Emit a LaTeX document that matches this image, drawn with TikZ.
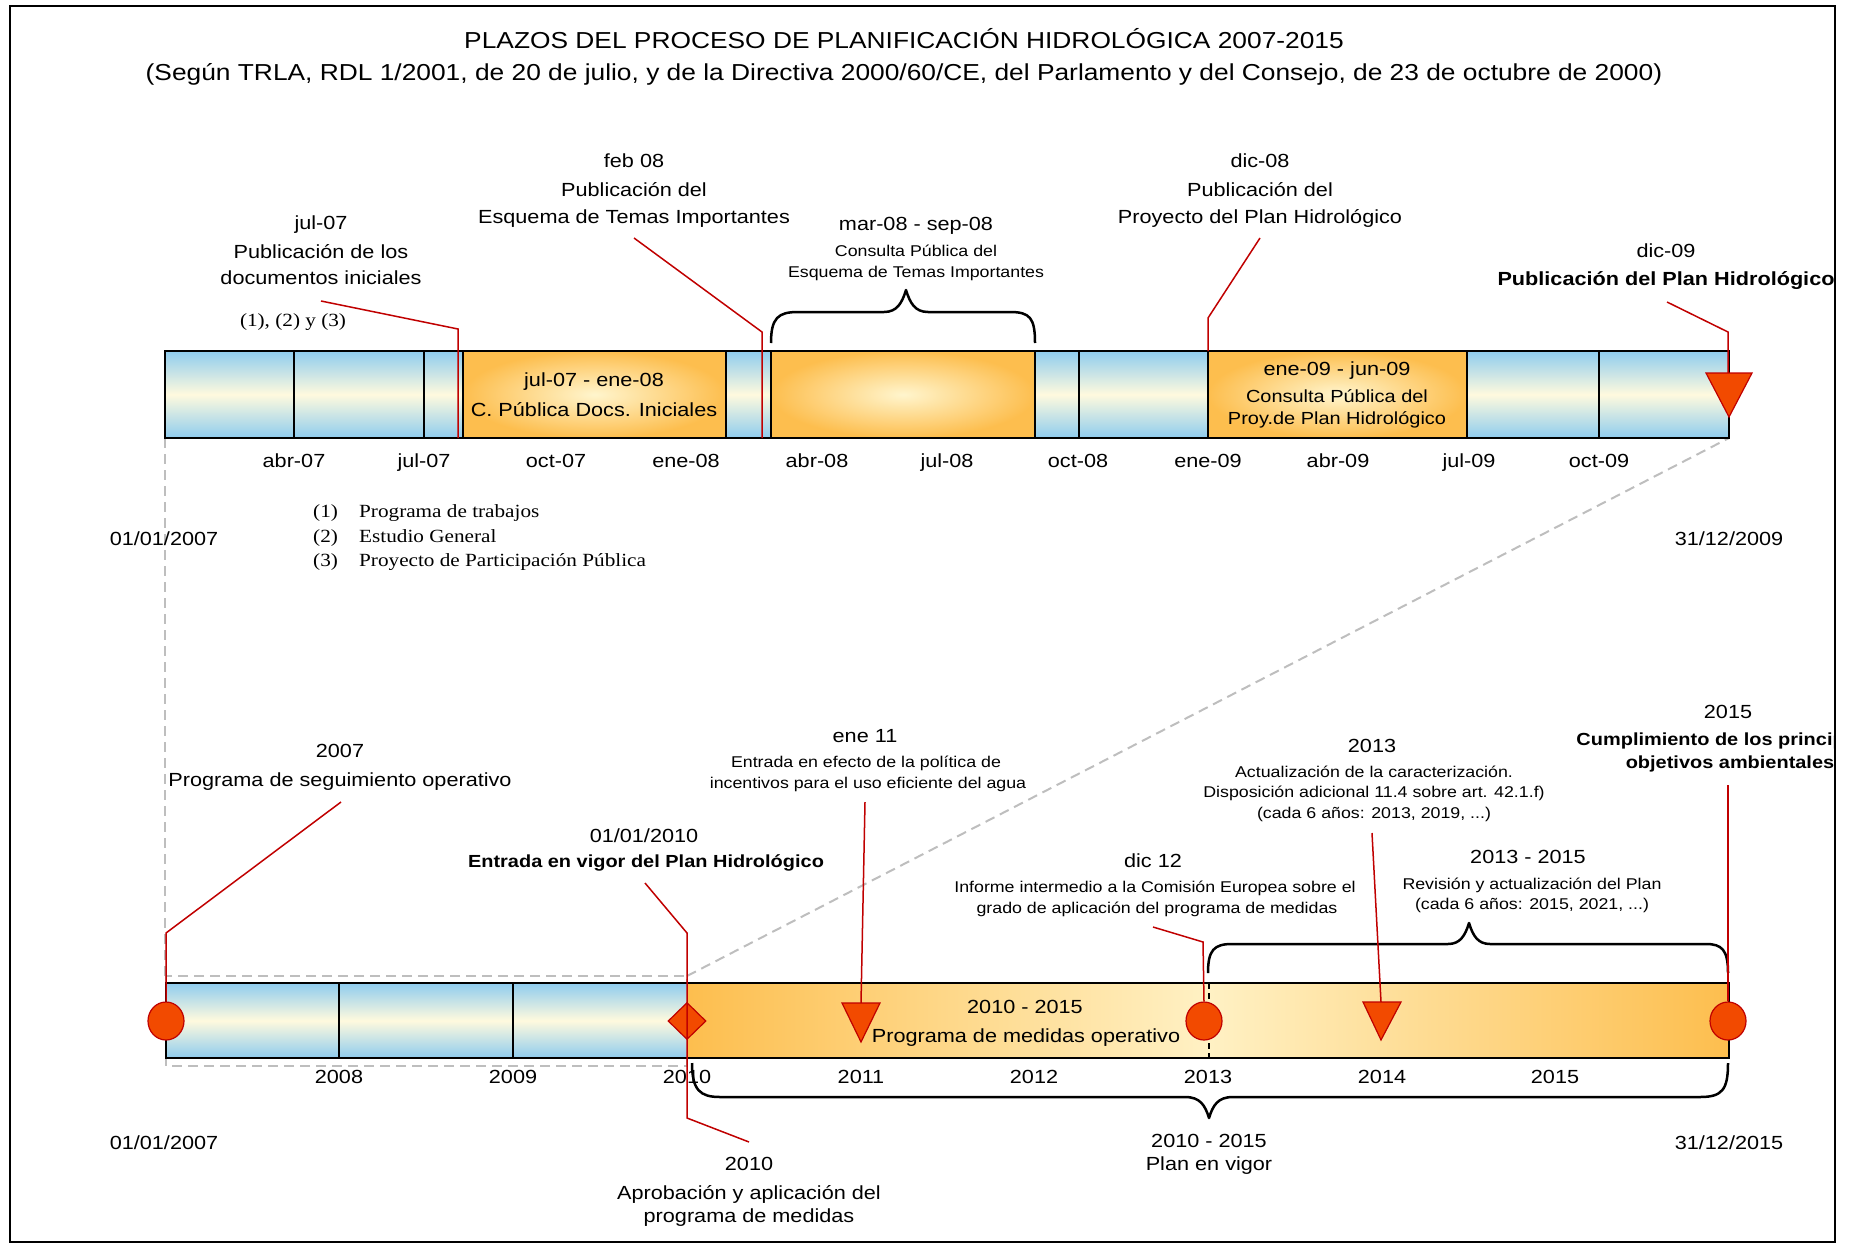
\documentclass[tikz,border=0pt]{standalone}
\usepackage{fontspec}
\setmainfont{Liberation Sans}[FakeStretch=1.14]
\newfontfamily\timesf{Liberation Serif}[FakeStretch=1.14]
\usetikzlibrary{shapes.geometric}
\definecolor{barblue}{RGB}{143,204,238}
\definecolor{barcream}{RGB}{255,250,222}
\definecolor{orgC}{RGB}{253,190,78}
\definecolor{orgL}{RGB}{255,245,205}
\definecolor{orgM}{RGB}{255,241,196}
\definecolor{redln}{RGB}{192,0,0}
\definecolor{markC}{RGB}{242,74,0}
\definecolor{dashg}{RGB}{190,190,190}
\tikzset{
  tx/.style={font=\fontsize{19}{23}\selectfont, inner sep=0pt, anchor=base},
  txs/.style={font=\fontsize{15.6}{18}\selectfont, inner sep=0pt, anchor=base},
  txm/.style={font=\fontsize{17.5}{20}\selectfont, inner sep=0pt, anchor=base},
  txb/.style={font=\fontsize{19}{23}\selectfont\bfseries, inner sep=0pt, anchor=base},
  txbn/.style={font=\fontsize{17.5}{21}\selectfont\bfseries, inner sep=0pt, anchor=base},
  ttl/.style={font=\fontsize{23.1}{27}\selectfont, inner sep=0pt, anchor=base},
  tms/.style={font=\fontsize{18.6}{22}\selectfont\timesf, inner sep=0pt, anchor=base},
  tmsl/.style={font=\fontsize{18.6}{22}\selectfont\timesf, inner sep=0pt, anchor=base west},
  blueshade/.style={top color=barblue, bottom color=barblue, middle color=barcream},
  orgshade/.style={inner color=orgL, outer color=orgC},
  guide/.style={draw=dashg, line width=2pt, dash pattern=on 10pt off 6pt},
  leader/.style={draw=redln, line width=1.5pt},
  divider/.style={draw=black, line width=1.3pt},
  barframe/.style={draw=black, line width=2pt},
  boxframe/.style={draw=black, line width=2.5pt},
  bracestyle/.style={draw=black, line width=2.5pt, line join=round},
  markstyle/.style={fill=markC, draw=redln, line width=1.2pt},
  circmark/.style={markstyle, ellipse, minimum width=36pt, minimum height=38pt, inner sep=0pt},
  diamark/.style={markstyle, diamond, minimum width=38pt, minimum height=37pt, inner sep=0pt},
}
\begin{document}
\begin{tikzpicture}[x=1pt,y=-1pt]
\useasboundingbox (0,0) rectangle (1849,1245);
\begin{scope}
\clip (10,6) rectangle (1835,1242);
% ---------- dashed guides
\draw[guide] (165,438) -- (165,976);
\draw[guide] (166,976) rectangle (687,1066);
\draw[guide] (687,976) -- (1729,438);
% ---------- title
\node[ttl] (title1) at (904,48) {PLAZOS DEL PROCESO DE PLANIFICACIÓN HIDROLÓGICA 2007-2015};
\node[ttl] (title2) at (904,80) {(Según TRLA, RDL 1/2001, de 20 de julio, y de la Directiva 2000/60/CE, del Parlamento y del Consejo, de 23 de octubre de 2000)};
% ---------- top bar
\shade[blueshade] (165,351) rectangle (463,438);
\shade[blueshade] (726,351) rectangle (771,438);
\shade[blueshade] (1035,351) rectangle (1208,438);
\shade[blueshade] (1467,351) rectangle (1729,438);
\shade[orgshade] (463,351) rectangle (726,438);
\shade[orgshade] (771,351) rectangle (1035,438);
\shade[orgshade] (1208,351) rectangle (1467,438);
\draw[divider] (294,351) -- (294,438);
\draw[divider] (424,351) -- (424,438);
\draw[divider] (1079,351) -- (1079,438);
\draw[divider] (1599,351) -- (1599,438);
\draw[barframe] (165,351) rectangle (1729,438);
\draw[boxframe] (463,351) rectangle (726,438);
\draw[boxframe] (771,351) rectangle (1035,438);
\draw[boxframe] (1208,351) rectangle (1467,438);
% box texts
\node[tx] (b1a) at (594,386) {jul-07 - ene-08};
\node[tx] (b1b) at (594,416) {C. Pública Docs. Iniciales};
\node[tx] (b3a) at (1337,375) {ene-09 - jun-09};
\node[txm] (b3b) at (1337,402) {Consulta Pública del};
\node[txm] (b3c) at (1337,424) {Proy.de Plan Hidrológico};
% month labels
\foreach \xx/\lab [count=\i] in {294/abr-07,424/jul-07,556/oct-07,686/ene-08,817/abr-08,947/jul-08,1078/oct-08,1208/ene-09,1338/abr-09,1469/jul-09,1599/oct-09}
  \node[tx] (mon\i) at (\xx,467) {\lab};
\node[tx] (d1) at (164,545) {01/01/2007};
\node[tx] (d2) at (1729,545) {31/12/2009};
% top brace
\draw[bracestyle] (771,343) .. controls (771,318) and (778,312) .. (798,312) -- (884,312) .. controls (897,312) and (902,303) .. (906,290) .. controls (910,303) and (915,312) .. (928,312) -- (1010,312) .. controls (1030,312) and (1035,318) .. (1035,343);
% top annotations
\node[tx] (a1a) at (321,229) {jul-07};
\node[tx] (a1b) at (321,258) {Publicación de los};
\node[tx] (a1c) at (321,284) {documentos iniciales};
\node[tms] (a1d) at (293,326) {(1), (2) y (3)};
\node[tx] (a2a) at (634,167) {feb 08};
\node[tx] (a2b) at (634,196) {Publicación del};
\node[tx] (a2c) at (634,223) {Esquema de Temas Importantes};
\node[tx] (a3a) at (916,230) {mar-08 - sep-08};
\node[txs] (a3b) at (916,256) {Consulta Pública del};
\node[txs] (a3c) at (916,277) {Esquema de Temas Importantes};
\node[tx] (a4a) at (1260,167) {dic-08};
\node[tx] (a4b) at (1260,196) {Publicación del};
\node[tx] (a4c) at (1260,223) {Proyecto del Plan Hidrológico};
\node[tx] (a5a) at (1666,257) {dic-09};
\node[txb] (a5b) at (1666,285) {Publicación del Plan Hidrológico};
% legend
\node[tmsl] (l1n) at (313,517) {(1)};
\node[tmsl] (l1t) at (359,517) {Programa de trabajos};
\node[tmsl] (l2n) at (313,542) {(2)};
\node[tmsl] (l2t) at (359,542) {Estudio General};
\node[tmsl] (l3n) at (313,566) {(3)};
\node[tmsl] (l3t) at (359,566) {Proyecto de Participación Pública};
% top leaders
\coordinate (p1) at (321,301);
\coordinate (p2) at (634,238);
\coordinate (p3) at (1260,238);
\coordinate (p4) at (1667,302);
\draw[leader] (p1) -- (458,329) -- (458,438);
\draw[leader] (p2) -- (762,332) -- (762,438);
\draw[leader] (p3) -- (1208,318) -- (1208,351);
\draw[leader] (p4) -- (1728,332) -- (1728,373);
\draw[markstyle] (1706,373) -- (1752,373) -- (1729,417) -- cycle;
% ---------- lower bar
\shade[blueshade] (166,983) rectangle (687,1058);
\shade[left color=orgC, right color=orgC, middle color=orgM] (687,983) rectangle (1729,1058);
\draw[divider] (339,983) -- (339,1058);
\draw[divider] (513,983) -- (513,1058);
\draw[barframe] (166,983) rectangle (1729,1058);
\draw[black, line width=1.5pt, dash pattern=on 6pt off 4pt] (1209,983) -- (1209,1058);
\node[tx] (b4a) at (1025,1013) {2010 - 2015};
\node[tx] (b4b) at (1026,1042) {Programa de medidas operativo};
% years
\foreach \xx/\lab [count=\i] in {339/2008,513/2009,687/2010,861/2011,1034/2012,1208/2013,1382/2014,1555/2015}
  \node[tx] (yr\i) at (\xx,1083) {\lab};
\node[tx] (d3) at (164,1149) {01/01/2007};
\node[tx] (d4) at (1729,1149) {31/12/2015};
% braces
\draw[bracestyle] (1208,973) .. controls (1208,950) and (1214,944) .. (1232,944) -- (1448,944) .. controls (1460,944) and (1465,936) .. (1469,923) .. controls (1473,936) and (1478,944) .. (1490,944) -- (1706,944) .. controls (1722,944) and (1728,950) .. (1728,973);
\draw[bracestyle] (692,1063) .. controls (692,1090) and (700,1097) .. (720,1097) -- (1185,1097) .. controls (1200,1097) and (1205,1105) .. (1209,1118) .. controls (1213,1105) and (1218,1097) .. (1233,1097) -- (1700,1097) .. controls (1722,1097) and (1728,1090) .. (1728,1063);
% lower annotations
\node[tx] (c1a) at (340,757) {2007};
\node[tx] (c1b) at (340,786) {Programa de seguimiento operativo};
\node[tx] (c2a) at (644,842) {01/01/2010};
\node[txbn] (c2b) at (646,867) {Entrada en vigor del Plan Hidrológico};
\node[tx] (c3a) at (865,742) {ene 11};
\node[txs] (c3b) at (866,767) {Entrada en efecto de la política de};
\node[txs] (c3c) at (868,788) {incentivos para el uso eficiente del agua};
\node[tx] (c4a) at (1153,867) {dic 12};
\node[txs] (c4b) at (1155,892) {Informe intermedio a la Comisión Europea sobre el};
\node[txs] (c4c) at (1157,913) {grado de aplicación del programa de medidas};
\node[tx] (c5a) at (1372,752) {2013};
\node[txs] (c5b) at (1374,777) {Actualización de la caracterización.};
\node[txs] (c5c) at (1374,797) {Disposición adicional 11.4 sobre art. 42.1.f)};
\node[txs] (c5d) at (1374,818) {(cada 6 años: 2013, 2019, ...)};
\node[tx] (c6a) at (1528,863) {2013 - 2015};
\node[txs] (c6b) at (1532,889) {Revisión y actualización del Plan};
\node[txs] (c6c) at (1532,909) {(cada 6 años: 2015, 2021, ...)};
\node[tx] (c7a) at (1728,718) {2015};
\node[txbn] (c7b) at (1730,745) {Cumplimiento de los principales};
\node[txbn] (c7c) at (1730,768) {objetivos ambientales};
\node[tx] (c8a) at (749,1170) {2010};
\node[tx] (c8b) at (749,1199) {Aprobación y aplicación del};
\node[tx] (c8c) at (749,1222) {programa de medidas};
\node[tx] (c9a) at (1209,1147) {2010 - 2015};
\node[tx] (c9b) at (1209,1170) {Plan en vigor};
% markers
\node[circmark] (m1) at (166,1021) {};
\node[circmark] (m2) at (1204,1021) {};
\node[circmark] (m3) at (1728,1021) {};
\node[diamark] (m4) at (687,1021) {};
% lower leaders
\coordinate (q1) at (341,802);
\coordinate (q2) at (645,883);
\coordinate (q3) at (865,802);
\coordinate (q4) at (1153,927);
\coordinate (q5) at (1372,833);
\coordinate (q6) at (1728,785);
\coordinate (q7) at (749,1142);
\draw[leader] (q1) -- (166,933) -- (m1.north);
\draw[leader] (q2) -- (687,933) -- (687,1118) -- (q7);
\draw[leader] (q3) -- (861,1003);
\draw[leader] (q4) -- (1203,942) -- (m2.north);
\draw[leader] (q5) -- (1381,1002);
\draw[leader] (q6) -- (m3.north);
\draw[markstyle] (842,1003) -- (880,1003) -- (861,1042) -- cycle;
\draw[markstyle] (1363,1002) -- (1401,1002) -- (1381,1040) -- cycle;
\end{scope}
\draw[black, line width=1.5pt] (10,6) rectangle (1835,1242);
\end{tikzpicture}
\end{document}
